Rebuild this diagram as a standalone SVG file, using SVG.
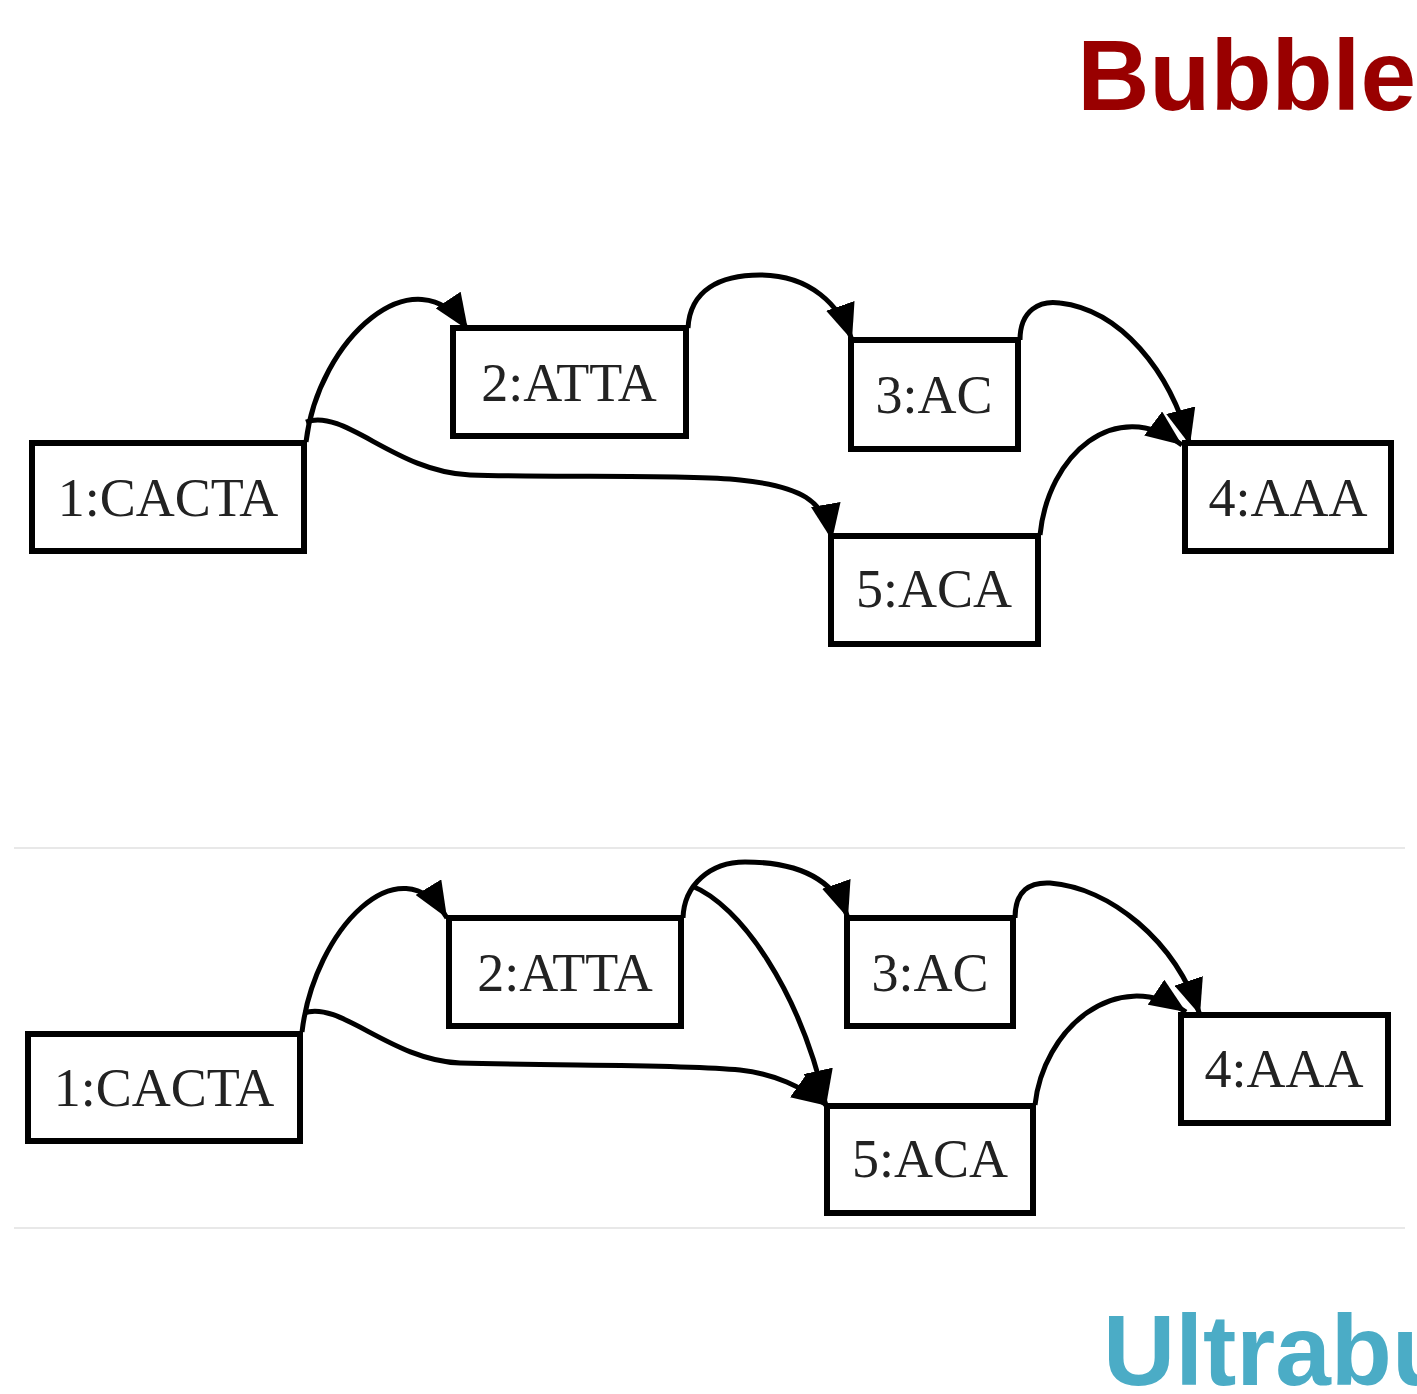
<svg xmlns="http://www.w3.org/2000/svg" width="1417" height="1394" viewBox="0 0 1417 1394">
<style>
.node rect{fill:#fff;stroke:#000;stroke-width:6}
.node text{font-family:"Liberation Serif","Times New Roman",serif;font-size:54px;fill:#222;text-anchor:middle}
.edge{fill:none;stroke:#000;stroke-width:5;marker-end:url(#ah)}
.title{font-family:"Liberation Sans",Arial,sans-serif;font-weight:bold;font-size:100px}
.sep{stroke:#e8e8e8;stroke-width:2}
</style>
<defs>
<marker id="ah" markerUnits="userSpaceOnUse" markerWidth="38" markerHeight="30" refX="36" refY="15" orient="auto">
<path d="M0,0 L36,15 L0,30 z" fill="#000"/>
</marker>
</defs>
<rect width="1417" height="1394" fill="#fff"/>
<text class="title" x="1416" y="110" fill="#990000" text-anchor="end">Bubble</text>
<text class="title" x="1103" y="1385" fill="#4BACC6">Ultrabu</text>
<line class="sep" x1="14" y1="848" x2="1405" y2="848"/>
<line class="sep" x1="14" y1="1228" x2="1405" y2="1228"/>

<g id="connectors">
<path class="edge" d="M306,442 C318,340 415,250 468,330"/>
<path class="edge" d="M306,422 C345,408 395,472 470,475 C560,478 680,474 740,480 C800,486 825,500 832,540"/>
<path class="edge" d="M688,328 C690,290 720,275 760,275 C810,275 840,305 852,340"/>
<path class="edge" d="M1020,340 C1020,310 1040,300 1060,303 C1120,310 1170,370 1190,445"/>
<path class="edge" d="M1040,535 C1048,455 1115,395 1182,445"/>

<path class="edge" d="M302,1032 C314,930 400,840 447,918"/>
<path class="edge" d="M304,1013 C340,1000 390,1060 460,1063 C560,1066 680,1064 740,1070 C775,1074 800,1086 828,1106"/>
<path class="edge" d="M683,918 C684,885 710,862 745,862 C800,862 835,880 848,918"/>
<path class="edge" d="M692,886 C740,905 800,990 826,1106"/>
<path class="edge" d="M1015,918 C1015,890 1030,882 1050,883 C1110,888 1175,940 1200,1015"/>
<path class="edge" d="M1035,1105 C1043,1030 1115,965 1186,1012"/>
</g>

<g id="t1" class="node"><rect x="32" y="443" width="272" height="108"/><text x="168" y="516">1:CACTA</text></g>
<g id="t2" class="node"><rect x="453" y="328" width="233" height="108"/><text x="569" y="401">2:ATTA</text></g>
<g id="t3" class="node"><rect x="851" y="340" width="167" height="109"/><text x="934" y="413">3:AC</text></g>
<g id="t4" class="node"><rect x="1185" y="443" width="206" height="108"/><text x="1288" y="516">4:AAA</text></g>
<g id="t5" class="node"><rect x="831" y="536" width="207" height="108"/><text x="934" y="607">5:ACA</text></g>

<g id="b1" class="node"><rect x="28" y="1034" width="272" height="107"/><text x="164" y="1106">1:CACTA</text></g>
<g id="b2" class="node"><rect x="449" y="918" width="232" height="108"/><text x="565" y="991">2:ATTA</text></g>
<g id="b3" class="node"><rect x="847" y="918" width="166" height="108"/><text x="930" y="991">3:AC</text></g>
<g id="b4" class="node"><rect x="1181" y="1015" width="207" height="108"/><text x="1284" y="1087">4:AAA</text></g>
<g id="b5" class="node"><rect x="827" y="1106" width="206" height="107"/><text x="930" y="1177">5:ACA</text></g>
</svg>
